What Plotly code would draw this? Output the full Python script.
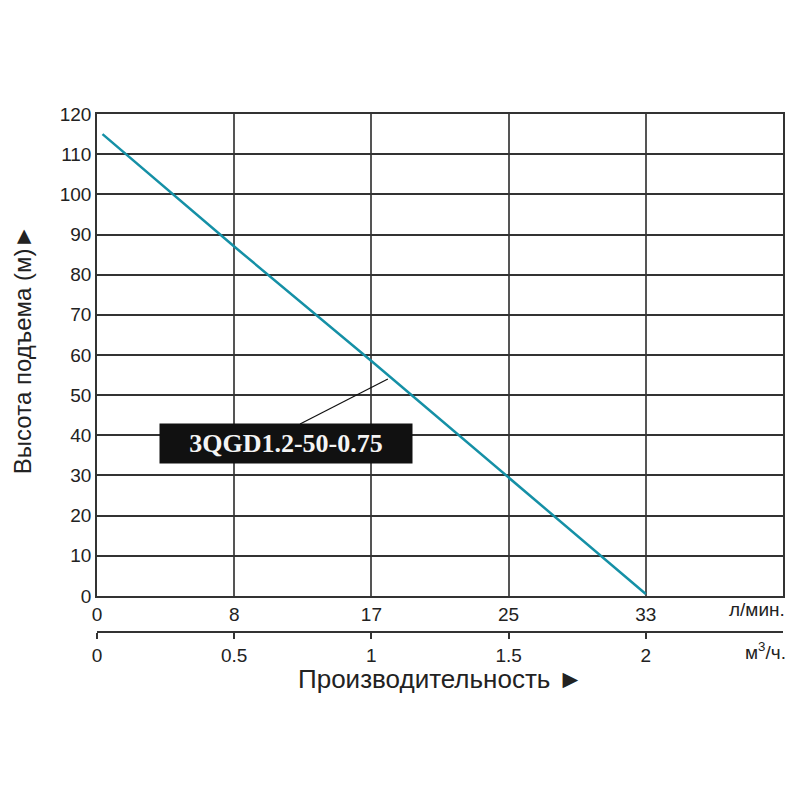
import plotly.graph_objects as go

# pump curve 3QGD1.2-50-0.75
flow_m3h = [0.02, 0.5, 1.0, 1.5, 2.0]
head_m = [115, 87, 58.5, 29.5, 0.5]

tick_m3h = [0, 0.5, 1, 1.5, 2]
tick_lmin = ['0', '8', '17', '25', '33']
tick_m3h_text = ['0', '0.5', '1', '1.5', '2']
head_ticks = list(range(0, 121, 10))

model = '3QGD1.2-50-0.75'

font_axis = dict(family='Liberation Sans, Arial', size=19, color='#222')
font_title = dict(family='Liberation Sans, Arial', size=26, color='#222')

fig = go.Figure()
fig.add_trace(go.Scatter(x=flow_m3h, y=head_m, mode='lines',
                         line=dict(color='#1590a6', width=2.5),
                         showlegend=False, xaxis='x', yaxis='y'))
# invisible trace so the second x axis is drawn
fig.add_trace(go.Scatter(x=[0, 2.5], y=[0, 0], mode='markers',
                         marker=dict(opacity=0), showlegend=False,
                         hoverinfo='skip', xaxis='x2', yaxis='y'))

# the page has an 8px body margin, so margins are shifted by 8px
fig.update_layout(
    width=800, height=800,
    margin=dict(l=89, r=25, t=106, b=108),
    plot_bgcolor='white', paper_bgcolor='white',
    xaxis=dict(range=[0, 2.5], tickvals=tick_m3h, ticktext=tick_lmin,
               showgrid=True, gridcolor='#555', gridwidth=1.5,
               showline=True, linecolor='#333', linewidth=1.5, mirror=True,
               ticks='', tickfont=font_axis, zeroline=False),
    xaxis2=dict(range=[0, 2.5], tickvals=tick_m3h, ticktext=tick_m3h_text,
                overlaying='x', anchor='free', position=0.116, side='bottom',
                showgrid=False, showline=True, linecolor='#333', linewidth=1.5,
                ticks='outside', ticklen=6, tickcolor='#333', tickwidth=1.5,
                tickfont=font_axis, zeroline=False),
    yaxis=dict(range=[0, 120], tickvals=head_ticks, domain=[0.1775, 1],
               showgrid=True, gridcolor='#333', gridwidth=1.5,
               showline=True, linecolor='#333', linewidth=1.5, mirror=True,
               ticks='', tickfont=font_axis, zeroline=False),
)

fig.add_shape(type='line', x0=0.74, y0=42.8, x1=1.06, y1=54.0,
              xref='x', yref='y', line=dict(color='#111', width=1.2))

fig.add_annotation(x=0.688, y=38, xref='x', yref='y', text='<b>' + model + '</b>',
                   showarrow=False, bgcolor='#111', borderpad=4,
                   width=244, height=31, align='center',
                   xanchor='center', yanchor='middle',
                   font=dict(family='Liberation Serif, Times New Roman', size=26, color='#f4f4f4'))

fig.add_annotation(x=0, xref='paper', xshift=-75, y=0.597, yref='paper',
                   text='Высота подъема (м)►', textangle=-90, showarrow=False,
                   xanchor='center', yanchor='middle',
                   font=dict(family='Liberation Sans, Arial', size=24, color='#222'))
fig.add_annotation(x=0.5, xref='paper', y=0.036, yref='paper',
                   text='Производительность ►', showarrow=False,
                   xanchor='center', yanchor='middle', font=font_title)
fig.add_annotation(x=0.962, xref='paper', y=0.155, yref='paper',
                   text='л/мин.', showarrow=False,
                   xanchor='center', yanchor='middle', font=font_axis)
fig.add_annotation(x=0.974, xref='paper', y=0.0836, yref='paper',
                   text='м<sup>3</sup>/ч.', showarrow=False,
                   xanchor='center', yanchor='middle', font=font_axis)

fig.write_html('out.html')
